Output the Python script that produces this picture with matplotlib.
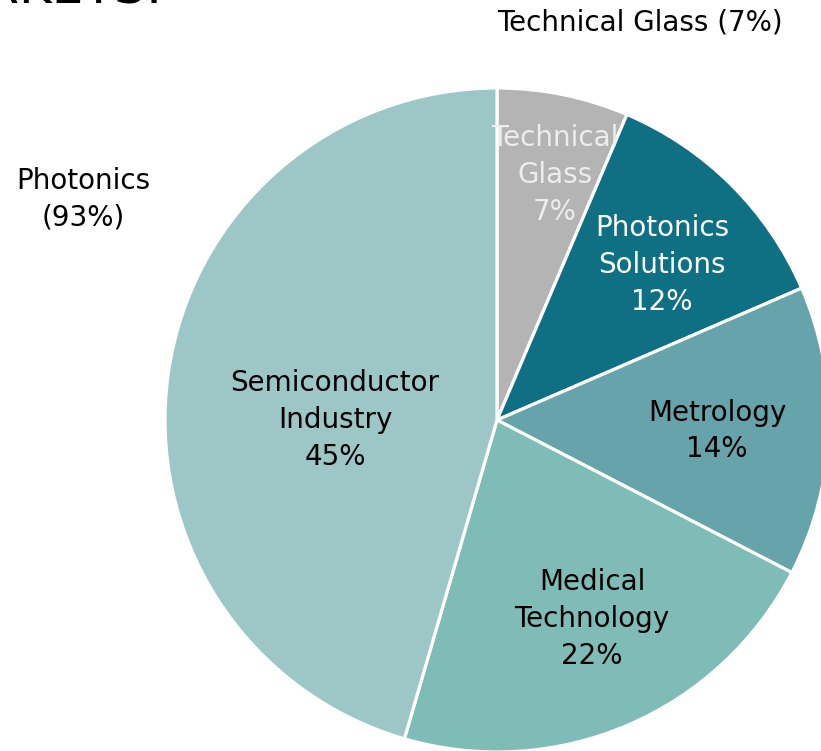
import matplotlib
matplotlib.use("Agg")
import matplotlib.pyplot as plt

# slice data, clockwise from 12 o'clock
segments = ['Technical\nGlass', 'Photonics\nSolutions', 'Metrology', 'Medical\nTechnology', 'Semiconductor\nIndustry']
shares = [6.4, 12.1, 14.1, 21.9, 45.5]
share_labels = [7, 12, 14, 22, 45]
colors = ['#B4B4B4', '#0F7083', '#66A3AB', '#7FBCB8', '#9DC7C7']
text_colors = ['#EDEDED', 'white', 'black', 'black', 'black']
# label centres in pixels (x from left, y from top)
label_pos = [(555, 175), (662, 265), (717, 431), (592, 619), (335, 420)]

outer_left = 'Photonics\n(93%)'
outer_right = 'Technical Glass (7%)'

W, H = 821, 751
fig = plt.figure(figsize=(W / 100, H / 100), dpi=100)
ax = fig.add_axes([0, 0, 1, 1])

ax.pie(shares, colors=colors, startangle=90, counterclock=False,
       center=(497, H - 420), radius=332, frame=True,
       wedgeprops=dict(edgecolor='white', linewidth=2.3))
ax.set_xlim(0, W)
ax.set_ylim(0, H)
ax.set_aspect('auto')
ax.axis('off')

for name, pct, (x, y), c in zip(segments, share_labels, label_pos, text_colors):
    ax.text(x, H - y, '%s\n%d%%' % (name, pct), ha='center', va='center',
            fontsize=20, color=c, linespacing=1.4)

ax.text(83, H - 199, outer_left, ha='center', va='center', fontsize=20,
        color='black', linespacing=1.4)
ax.text(640, H - 22, outer_right, ha='center', va='center', fontsize=20,
        color='black')

# title cut off at the top edge, only its lower part shows
ax.text(163, H - 4, 'MARKETS:', ha='right', va='baseline', fontsize=36,
        color='black')

fig.savefig('out.png', dpi=100)
